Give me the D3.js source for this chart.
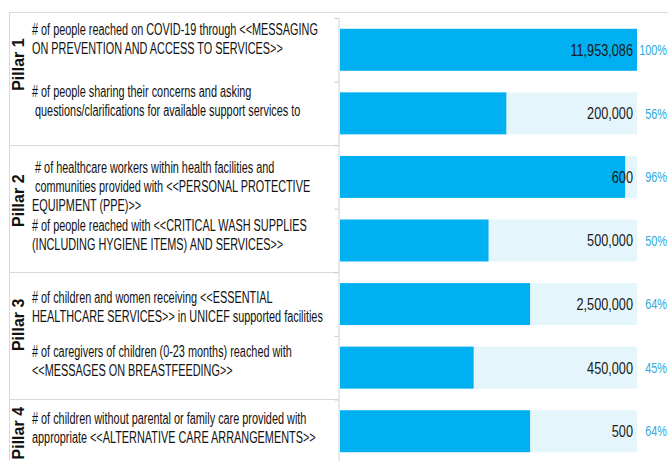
<!DOCTYPE html>
<html>
<head>
<meta charset="utf-8">
<script src="https://cdn.jsdelivr.net/npm/d3@7"></script>
<style>
  body { margin: 0; background: #fff; }
  text { white-space: pre; }
</style>
</head>
<body>
<div id="chart"></div>
<script>
// ---- data ----
var pillars = ["Pillar 1", "Pillar 2", "Pillar 3", "Pillar 4"];
var pillarOf = [0, 0, 1, 1, 2, 2, 3];   // pillar index for each indicator row

var indicators = [
    ["# of people reached on COVID-19 through <<MESSAGING", "ON PREVENTION AND ACCESS TO SERVICES>>"],
    ["# of people sharing their concerns and asking", " questions/clarifications for available support services to"],
    [" # of healthcare workers within health facilities and", " communities provided with <<PERSONAL PROTECTIVE", "EQUIPMENT (PPE)>>"],
    ["# of people reached with <<CRITICAL WASH SUPPLIES", "(INCLUDING HYGIENE ITEMS) AND SERVICES>>"],
    ["# of children and women receiving <<ESSENTIAL", "HEALTHCARE SERVICES>> in UNICEF supported facilities"],
    ["# of caregivers of children (0-23 months) reached with", "<<MESSAGES ON BREASTFEEDING>>"],
    ["# of children without parental or family care provided with", "appropriate <<ALTERNATIVE CARE ARRANGEMENTS>>"]
];

var reached = ["11,953,086", "200,000", "600", "500,000", "2,500,000", "450,000", "500"];
var percent = [100, 56, 96, 50, 64, 45, 64];

// ---- layout ----
var width = 668, height = 461;
var textTop = [17, 15.5, 28, 22.5, 31, 21.5, 25];   // first baseline below row edge
var pillarShift = [-17, -8, -11, 2];
var lineH = 19;
var font = "'Liberation Sans', Arial, sans-serif";

// no narrow face installed, so squeeze regular text horizontally
function squeeze(sel, s) {
    return sel.attr("transform", function(d) {
        var p = this.__pos;
        return "translate(" + p[0] + "," + p[1] + ") scale(" + s + ",1)";
    });
}

var svg = d3.select("#chart").append("svg")
    .attr("width", width)
    .attr("height", height);

var rows = d3.range(indicators.length);

var y = d3.scaleBand()
    .domain(rows)
    .range([18, 463])
    .paddingInner(0.34)
    .paddingOuter(0.17);

var edge = d3.scaleLinear()
    .domain([0, rows.length])
    .range([18, 463]);

var x = d3.scaleLinear()
    .domain([0, 100])
    .range([340, 637]);

// table frame
svg.append("line")
    .attr("x1", 9).attr("x2", width)
    .attr("y1", 12.5).attr("y2", 12.5)
    .attr("stroke", "#d9d9d9");

svg.append("line")
    .attr("x1", 9.5).attr("x2", 9.5)
    .attr("y1", 12).attr("y2", height)
    .attr("stroke", "#d9d9d9");

var splits = [2, 4, 6];
svg.selectAll(".split")
    .data(splits)
    .enter().append("line")
    .attr("class", "split")
    .attr("x1", 9).attr("x2", 337)
    .attr("y1", function(d) { return Math.round(edge(d)) + 0.5; })
    .attr("y2", function(d) { return Math.round(edge(d)) + 0.5; })
    .attr("stroke", "#d9d9d9");

// axis with ticks on row edges
var axis = d3.axisLeft(edge)
    .tickValues(d3.range(rows.length + 1))
    .tickSize(4)
    .tickSizeOuter(0)
    .tickFormat("");

var gAxis = svg.append("g")
    .attr("transform", "translate(338.5,0)")
    .call(axis);
gAxis.select(".domain").attr("stroke", "#d0d0d0");
gAxis.selectAll(".tick line").attr("stroke", "#c8c8c8");

// background bars
svg.selectAll(".bg")
    .data(rows)
    .enter().append("rect")
    .attr("class", "bg")
    .attr("x", x(0))
    .attr("y", function(d) { return y(d); })
    .attr("width", x(100) - x(0))
    .attr("height", y.bandwidth())
    .attr("fill", "#e5f5fc");

// value bars
svg.selectAll(".bar")
    .data(rows)
    .enter().append("rect")
    .attr("class", "bar")
    .attr("x", x(0))
    .attr("y", function(d) { return y(d); })
    .attr("width", function(d) { return x(percent[d]) - x(0); })
    .attr("height", y.bandwidth())
    .attr("fill", "#00b0f0");

// reached numbers
var vals = svg.selectAll(".val")
    .data(rows)
    .enter().append("text")
    .attr("class", "val")
    .each(function(d) { this.__pos = [x(100) - 4, y(d) + y.bandwidth() / 2]; })
    .attr("dy", "0.36em")
    .attr("text-anchor", "end")
    .style("font-family", font)
    .style("font-size", "16.5px")
    .style("fill", "#1a1a1a")
    .text(function(d) { return reached[d]; });
squeeze(vals, 0.77);

// percentages
var pcts = svg.selectAll(".pct")
    .data(rows)
    .enter().append("text")
    .attr("class", "pct")
    .each(function(d) { this.__pos = [667, y(d) + y.bandwidth() / 2]; })
    .attr("dy", "0.36em")
    .attr("text-anchor", "end")
    .style("font-family", font)
    .style("font-size", "14.5px")
    .style("fill", "#31a9da")
    .text(function(d) { return percent[d] + "%"; });
squeeze(pcts, 0.75);

// indicator labels
var labels = svg.selectAll(".label")
    .data(rows)
    .enter().append("text")
    .attr("class", "label")
    .each(function(d) { this.__pos = [32, edge(d) + textTop[d]]; })
    .style("font-family", font)
    .style("font-size", "16px")
    .style("fill", "#111");
squeeze(labels, 0.68);

labels.selectAll("tspan")
    .data(function(d) { return indicators[d]; })
    .enter().append("tspan")
    .attr("x", 0)
    .attr("y", function(t, k) { return k * lineH; })
    .text(function(t) { return t; });

// pillar labels, rotated
svg.selectAll(".pillar")
    .data(pillars)
    .enter().append("text")
    .attr("class", "pillar")
    .attr("transform", function(d, i) {
        var r = rows.filter(function(j) { return pillarOf[j] === i; });
        var cy = (edge(r[0]) + edge(r[r.length - 1] + 1)) / 2 + pillarShift[i];
        return "translate(24," + cy + ") rotate(-90)";
    })
    .attr("text-anchor", "middle")
    .style("font-family", font)
    .style("font-weight", "bold")
    .style("font-size", "16px")
    .style("fill", "#111")
    .text(function(d) { return d; });
</script>
</body>
</html>
